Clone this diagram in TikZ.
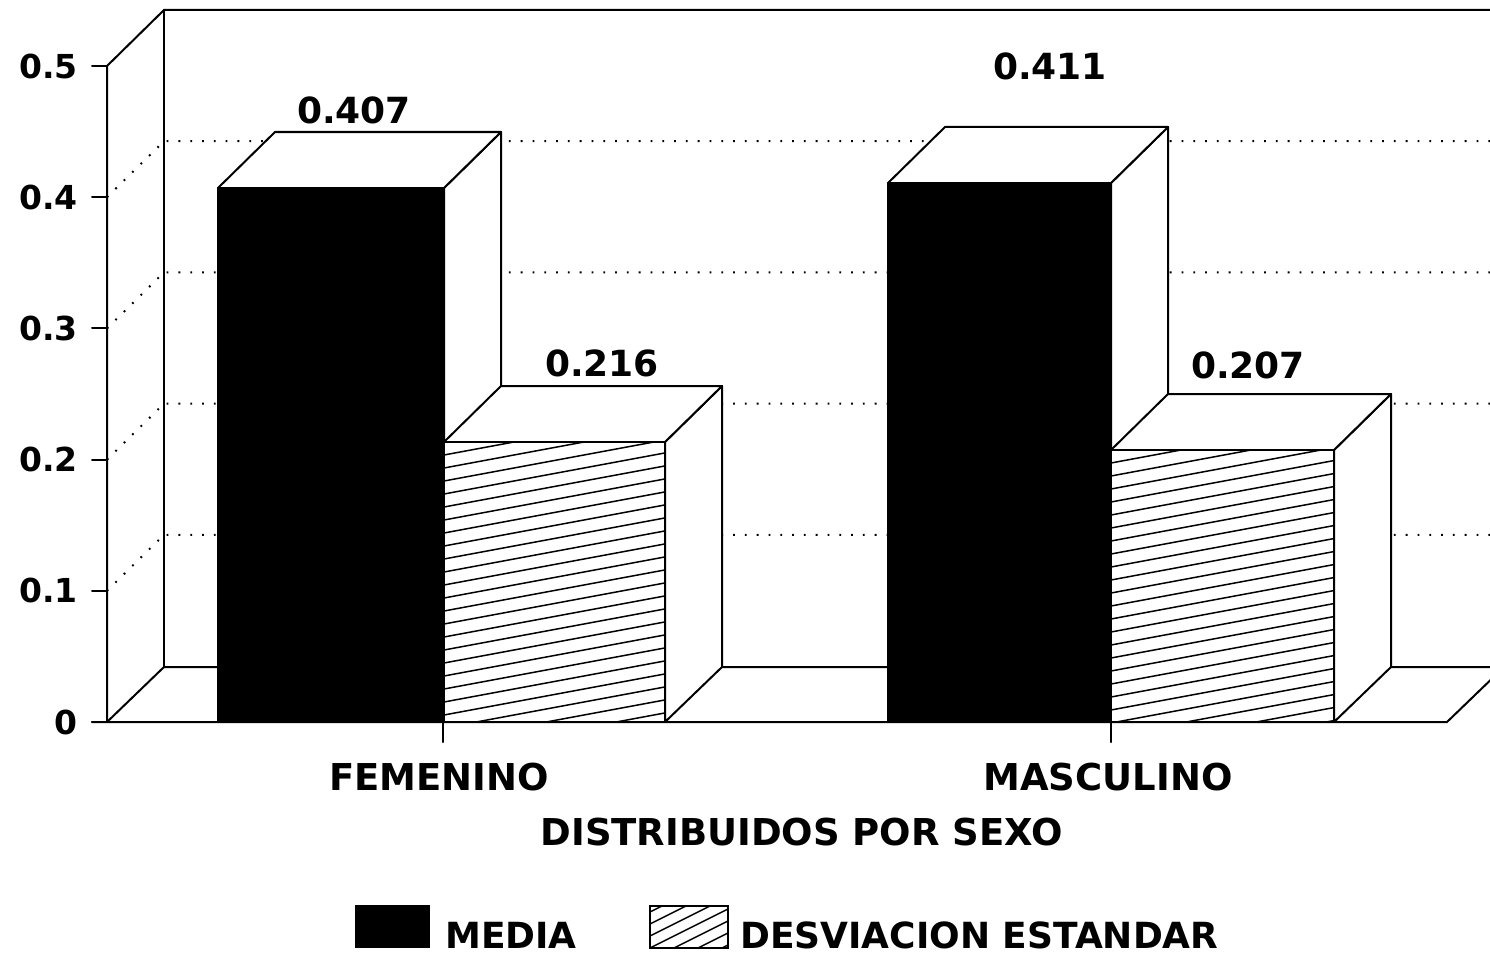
\documentclass[tikz,border=0pt]{standalone}
\usepackage{fontspec}
\setmainfont{DejaVu Sans}
\usetikzlibrary{positioning}

\begin{document}
\begin{tikzpicture}[x=1pt,y=-1pt,
    wall/.style={line width=2pt,line cap=round},
    gridline/.style={line width=2pt,dash pattern=on 1.8pt off 10pt},
    face/.style={draw,line width=2pt,line join=round,fill=white},
    hatchline/.style={line width=1.5pt},
    ticklbl/.style={font=\fontsize{33}{36}\selectfont\bfseries,inner sep=0pt,anchor=east},
    vallbl/.style={font=\fontsize{36}{40}\selectfont\bfseries,inner sep=0pt,anchor=base},
    catlbl/.style={font=\fontsize{37}{40}\selectfont\bfseries,inner sep=0pt,anchor=base},
    leglbl/.style={font=\fontsize{36}{40}\selectfont\bfseries,inner sep=0pt,anchor=base west}]
  \useasboundingbox (0,0) rectangle (1490,955);

  % floor and walls
  \coordinate (o) at (107,722);
  \coordinate (ob) at (164,667);
  \coordinate (t) at (107,66);
  \coordinate (tb) at (164,10);
  \coordinate (fr) at (1447,722);
  \coordinate (frb) at (1504,667);
  \draw[wall] (92,722) -- (fr) -- (frb);
  \draw[wall] (o) -- (ob) -- (frb);
  \draw[wall] (o) -- (t) -- (tb) -- (1504,10);
  \draw[wall] (ob) -- (tb);

  % grid and ticks
  \foreach \v in {1,...,4}
    \draw[gridline] (107,722-131.2*\v) -- (164,666-131.2*\v) -- (1500,666-131.2*\v);
  \foreach \v/\lbl in {0/0,1/0.1,2/0.2,3/0.3,4/0.4,5/0.5} {
    \draw[wall] (92,722-131.2*\v) -- (107,722-131.2*\v);
    \node[ticklbl] (y\v) at (78,722-131.2*\v) {\lbl};
  }
  \draw[wall] (443,722) -- (443,742);
  \draw[wall] (1111,722) -- (1111,742);

  % media bars
  \foreach \xl/\xr/\ht in {218/444/188, 888/1111/183} {
    \draw[face] (\xr,\ht) -- (\xr+57,\ht-56) -- (\xr+57,667) -- (\xr,722) -- cycle;
    \draw[face] (\xl,\ht) -- (\xl+57,\ht-56) -- (\xr+57,\ht-56) -- (\xr,\ht) -- cycle;
    \draw[face,fill=black] (\xl,\ht) rectangle (\xr,722);
  }

  % desviacion bars
  \foreach \xl/\xr/\ht in {444/665/442, 1111/1334/450} {
    \draw[face] (\xr,\ht) -- (\xr+57,\ht-56) -- (\xr+57,667) -- (\xr,722) -- cycle;
    \draw[face] (\xl,\ht) -- (\xl+57,\ht-56) -- (\xr+57,\ht-56) -- (\xr,\ht) -- cycle;
    \fill[white] (\xl,\ht) rectangle (\xr,722);
    \begin{scope}
      \clip (\xl,\ht) rectangle (\xr,722);
      \foreach \c in {0,13,...,330}
        \draw[hatchline] (\xl,\ht+\c) -- ++(226,-42);
    \end{scope}
    \draw[face,fill=none] (\xl,\ht) rectangle (\xr,722);
  }

  % value labels
  \node[vallbl] (v1) at (354,124) {0.407};
  \node[vallbl] (v2) at (602,376) {0.216};
  \node[vallbl] (v3) at (1050,80) {0.411};
  \node[vallbl] (v4) at (1248,378) {0.207};

  % axis labels
  \node[catlbl] (fem) at (439,790) {FEMENINO};
  \node[catlbl] (mas) at (1108,790) {MASCULINO};
  \node[catlbl] (xlbl) at (802,845) {DISTRIBUIDOS POR SEXO};

  % legend
  \fill (355,905) rectangle (430,948);
  \node[leglbl] (lmedia) at (445,948) {MEDIA};
  \begin{scope}
    \clip (650,906) rectangle (728,948);
    \foreach \c in {0,12,...,72}
      \draw[hatchline] (650,912+\c) -- ++(80,-40);
  \end{scope}
  \draw[line width=1.6pt] (650,906) rectangle (728,948);
  \node[leglbl] (ldesv) at (740,948) {DESVIACION ESTANDAR};
\end{tikzpicture}
\end{document}
